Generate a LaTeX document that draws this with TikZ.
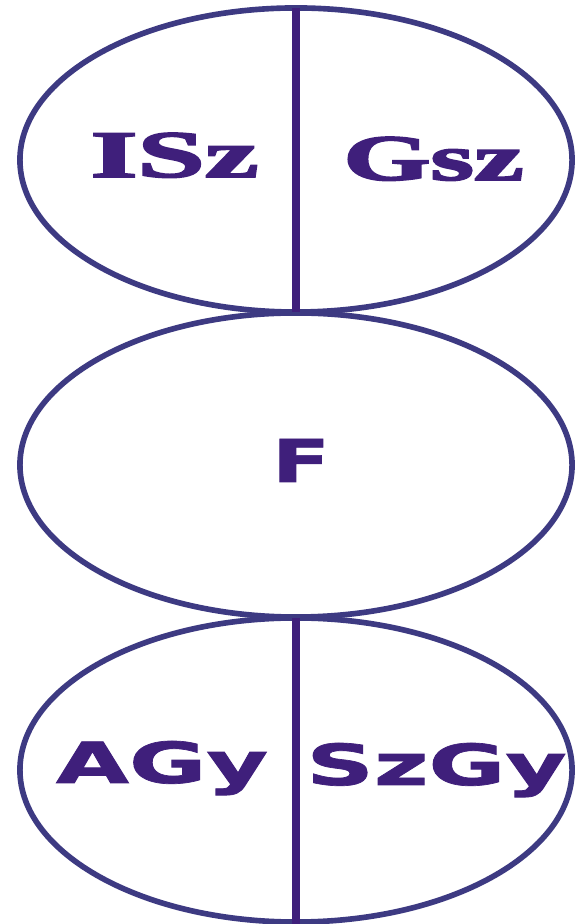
\documentclass[tikz,border=0pt]{standalone}
\usepackage{fontspec}
\setmainfont{Liberation Serif}[BoldFeatures={FakeBold=2.5}]
\setsansfont{DejaVu Sans}[BoldFeatures={FakeBold=1.2}]
\usepackage{graphicx}
\usetikzlibrary{shapes.geometric}
\definecolor{ringcol}{HTML}{3D3A82}
\definecolor{inkcol}{HTML}{3F1F7B}
\begin{document}
\begin{tikzpicture}[x=0.025cm, y=0.025cm,
    ring/.style={ellipse, draw=ringcol, line width=4pt, minimum width=13.8cm, minimum height=7.6cm, inner sep=0pt, outer sep=0pt},
    divider/.style={draw=inkcol, line width=5pt},
    lbl/.style={text=inkcol, inner sep=0pt, anchor=base}
  ]
    \fill[white] (0,0) rectangle (578,924);
    \useasboundingbox (0,0) rectangle (578,924);
    \foreach \n/\y in {top/764, mid/459, bot/154} {
      \node[ring] (\n) at (296,\y) {};
    }
    \coordinate (edge) at (296,0);
    \draw[divider] (top.north) -- (top.south);
    \draw[divider] (bot.north) -- (edge);
    % labels
    \node[lbl, font=\bfseries] (isz) at (174.5,747) {\resizebox{4.2cm}{1.1cm}{ISz}};
    \node[lbl, font=\bfseries] (gsz) at (433.5,744) {\resizebox{4.5cm}{1.075cm}{Gsz}};
    \node[lbl, font=\sffamily\bfseries] (f) at (301,442) {\resizebox{1.45cm}{1.075cm}{F}};
    \node[lbl, font=\sffamily\bfseries] (agy) at (162,141) {\resizebox{5.3cm}{1.05cm}{AGy}};
    \node[lbl, font=\sffamily\bfseries] (szgy) at (436.5,139) {\resizebox{6.5cm}{1.05cm}{SzGy}};
\end{tikzpicture}
\end{document}
